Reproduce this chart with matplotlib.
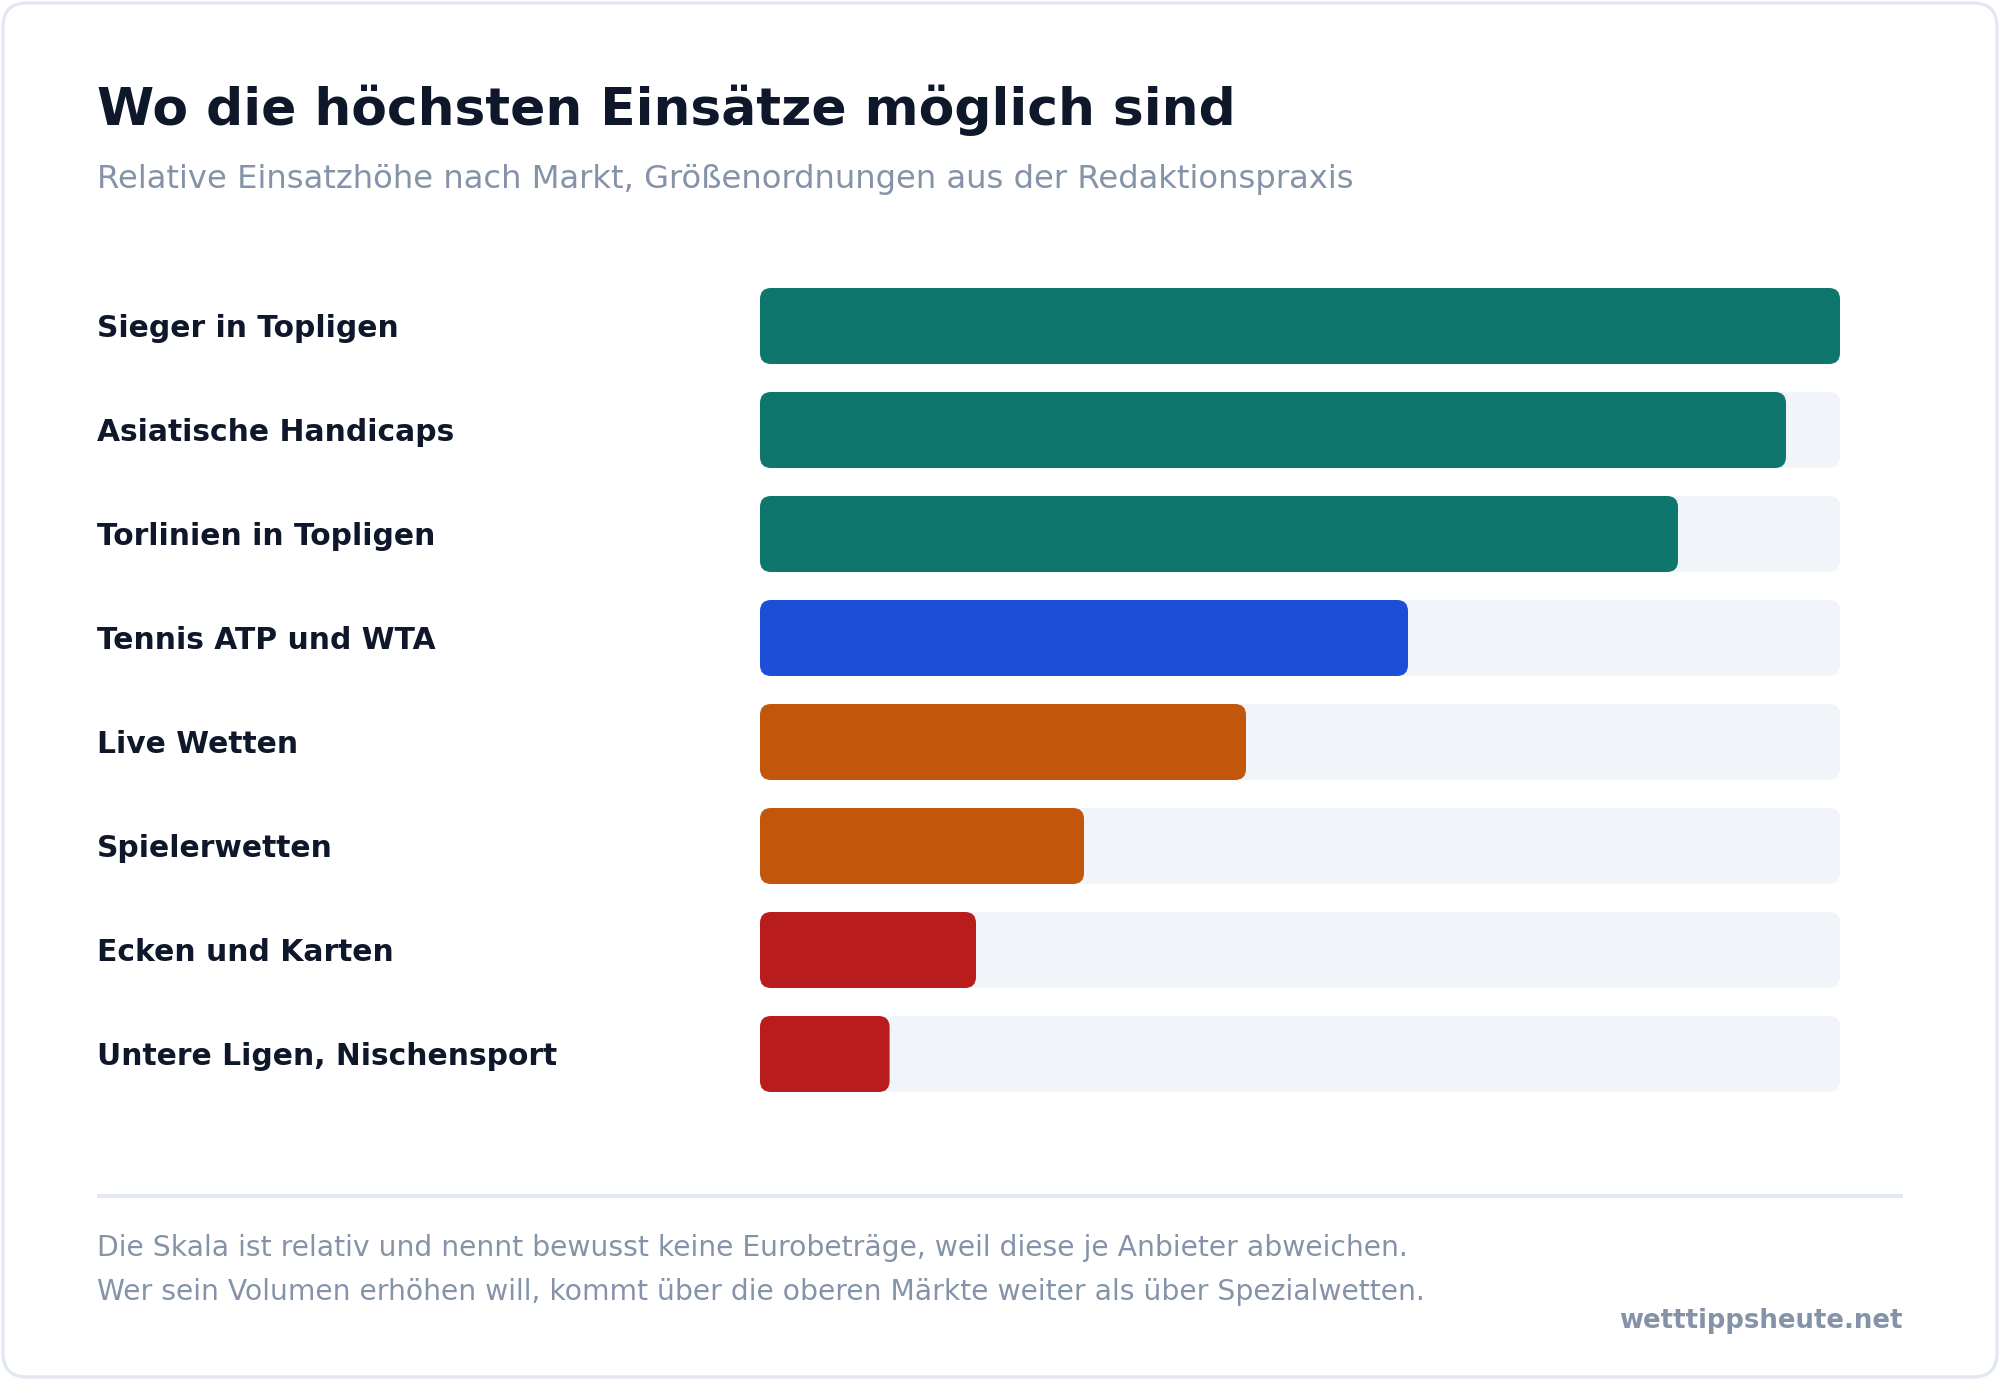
import matplotlib
matplotlib.use("Agg")
import matplotlib.pyplot as plt
from matplotlib.patches import FancyBboxPatch
from matplotlib.transforms import blended_transform_factory

# ---- data ----
categories = [
    "Sieger in Topligen",
    "Asiatische Handicaps",
    "Torlinien in Topligen",
    "Tennis ATP und WTA",
    "Live Wetten",
    "Spielerwetten",
    "Ecken und Karten",
    "Untere Ligen, Nischensport",
]
values = [100, 95, 85, 60, 45, 30, 20, 12]
bar_colors = ["#0f766e", "#0f766e", "#0f766e", "#1d4ed8",
              "#c2570c", "#c2570c", "#b91c1c", "#b91c1c"]
scale_max = 100

title = "Wo die höchsten Einsätze möglich sind"
subtitle = "Relative Einsatzhöhe nach Markt, Größenordnungen aus der Redaktionspraxis"
footer_lines = [
    "Die Skala ist relativ und nennt bewusst keine Eurobeträge, weil diese je Anbieter abweichen.",
    "Wer sein Volumen erhöhen will, kommt über die oberen Märkte weiter als über Spezialwetten.",
]
brand = "wetttippsheute.net"

# ---- style ----
W, H = 2000, 1380
DPI = 100
plt.rcParams['font.family'] = ['DejaVu Sans']
DARK = "#0f172a"
MUTED = "#8593a9"
TRACK = "#f1f5f9"
BORDER = "#e2e8f0"

fig = plt.figure(figsize=(W / DPI, H / DPI), dpi=DPI)
fig.patch.set_facecolor("white")

# background / decoration axes in pixel coords
bg = fig.add_axes([0, 0, 1, 1])
bg.set_xlim(0, W)
bg.set_ylim(H, 0)
bg.axis("off")
card = FancyBboxPatch((3, 3), W - 6, H - 6,
                      boxstyle="round,pad=0,rounding_size=24",
                      facecolor="white", edgecolor=BORDER, linewidth=2.4)
bg.add_patch(card)
bg.plot([97, 1903], [1196, 1196], color=BORDER, linewidth=2.9,
        solid_capstyle="butt")

def fx(px):
    return px / W

def fy(py):
    return 1 - py / H

fig.text(fx(97), fy(125), title, fontsize=37.4, fontweight="bold",
         color=DARK, va="baseline", ha="left")
fig.text(fx(97), fy(188), subtitle, fontsize=23.2, color=MUTED,
         va="baseline", ha="left")
fig.text(fx(97), fy(1256), footer_lines[0], fontsize=20.3, color=MUTED,
         va="baseline", ha="left")
fig.text(fx(97), fy(1300), footer_lines[1], fontsize=20.3, color=MUTED,
         va="baseline", ha="left")
fig.text(fx(1903), fy(1328), brand, fontsize=18.7, fontweight="bold",
         color=MUTED, va="baseline", ha="right")

# ---- bar axes ----
left_px, right_px = 760, 1840
row_px = 104
first_center = 326
n = len(categories)
top_px = first_center - row_px / 2
bottom_px = top_px + n * row_px
ax = fig.add_axes([fx(left_px), fy(bottom_px),
                   (right_px - left_px) / W, (bottom_px - top_px) / H])
ax.set_xlim(0, scale_max)
ax.set_ylim(n - 0.5, -0.5)
ax.axis("off")

px_per_x = (right_px - left_px) / scale_max
bar_h = 76 / row_px
r_px = 11
r_x = r_px / px_per_x
aspect = px_per_x / row_px

for i, (cat, val, col) in enumerate(zip(categories, values, bar_colors)):
    y0 = i - bar_h / 2
    track = FancyBboxPatch((0, y0), scale_max, bar_h,
                           boxstyle=f"round,pad=0,rounding_size={r_x}",
                           mutation_aspect=aspect,
                           facecolor=TRACK, edgecolor="none")
    ax.add_patch(track)
    bar = FancyBboxPatch((0, y0), val, bar_h,
                         boxstyle=f"round,pad=0,rounding_size={r_x}",
                         mutation_aspect=aspect,
                         facecolor=col, edgecolor="none")
    ax.add_patch(bar)

lab_tr = blended_transform_factory(fig.transFigure, ax.transData)
for i, cat in enumerate(categories):
    ax.text(fx(97), i + 11 / row_px, cat, transform=lab_tr,
            fontsize=21.4, fontweight="bold", color=DARK,
            va="baseline", ha="left")

fig.savefig("out.png", dpi=DPI, facecolor="white")
